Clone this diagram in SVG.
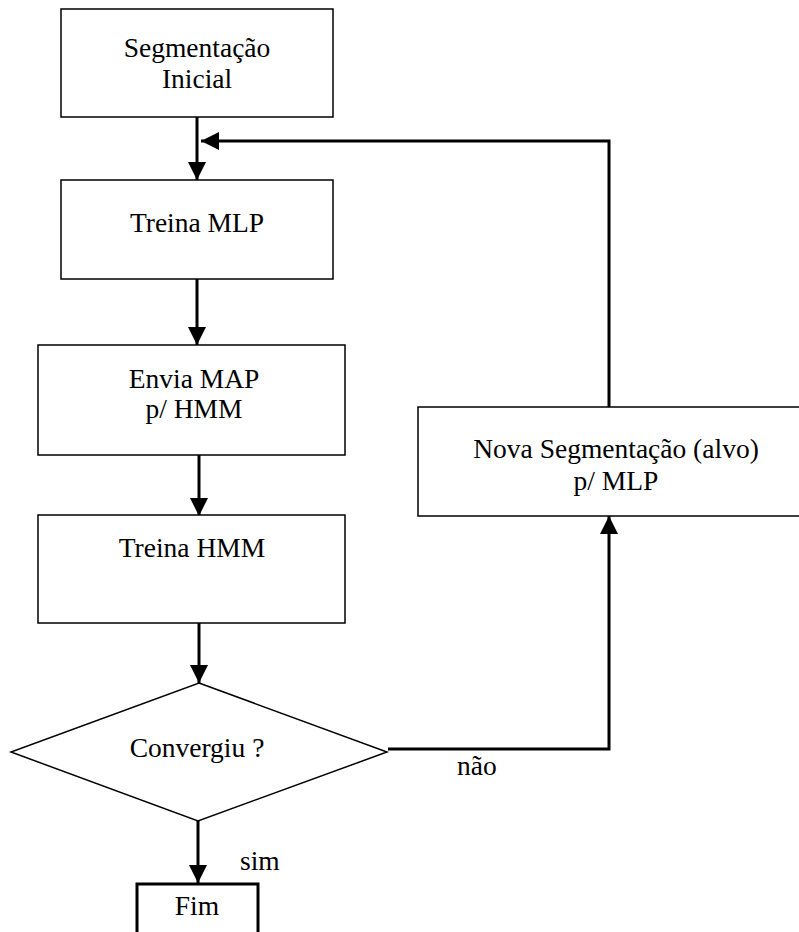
<svg xmlns="http://www.w3.org/2000/svg" width="799" height="932" viewBox="0 0 799 932">
  <style>
    .box { fill: #fff; stroke: #000; stroke-width: 1.5; }
    .bold { fill: #fff; stroke: #000; stroke-width: 3; }
    .lbl { font-family: "Liberation Serif", "Times New Roman", serif; font-size: 27.5px; fill: #000; text-anchor: middle; }
    .note { font-family: "Liberation Serif", "Times New Roman", serif; font-size: 27.5px; fill: #000; }
    .wire { fill: none; stroke: #000; stroke-width: 3; }
  </style>
  <defs>
    <marker id="arrow" viewBox="0 0 18 18" refX="18" refY="9" markerWidth="18" markerHeight="18" markerUnits="userSpaceOnUse" orient="auto">
      <path d="M0,0 L18,9 L0,18 Z" fill="#000"/>
    </marker>
  </defs>

  <g id="connectors">
    <line class="wire" x1="197" y1="117" x2="197" y2="180" marker-end="url(#arrow)"/>
    <polyline class="wire" points="609,407 609,141 201,141" marker-end="url(#arrow)"/>
    <line class="wire" x1="197" y1="279" x2="197" y2="345" marker-end="url(#arrow)"/>
    <line class="wire" x1="199" y1="455" x2="199" y2="516" marker-end="url(#arrow)"/>
    <line class="wire" x1="199" y1="623" x2="199" y2="683" marker-end="url(#arrow)"/>
    <line class="wire" x1="198" y1="821" x2="198" y2="883" marker-end="url(#arrow)"/>
    <polyline class="wire" points="388,749 609,749 609,516" marker-end="url(#arrow)"/>
    <text class="note" x="457" y="775">não</text>
    <text class="note" x="240" y="870">sim</text>
  </g>

  <g id="segmentacao-inicial">
    <rect class="box" x="61" y="9" width="272" height="108"/>
    <text class="lbl" x="197" y="57">Segmentação</text>
    <text class="lbl" x="197" y="88">Inicial</text>
  </g>

  <g id="treina-mlp">
    <rect class="box" x="61" y="180" width="272" height="99"/>
    <text class="lbl" x="197" y="232">Treina MLP</text>
  </g>

  <g id="envia-map">
    <rect class="box" x="38" y="345" width="307" height="110"/>
    <text class="lbl" x="194" y="388">Envia MAP</text>
    <text class="lbl" x="194" y="418">p/ HMM</text>
  </g>

  <g id="treina-hmm">
    <rect class="box" x="38" y="515" width="307" height="108"/>
    <text class="lbl" x="192" y="557">Treina HMM</text>
  </g>

  <g id="convergiu">
    <polygon class="box" points="199,683 387,752 198,821 11,752"/>
    <text class="lbl" x="197" y="757">Convergiu ?</text>
  </g>

  <g id="nova-segmentacao">
    <rect class="box" x="418" y="407" width="400" height="109"/>
    <text class="lbl" x="616" y="458">Nova Segmentação (alvo)</text>
    <text class="lbl" x="616" y="490">p/ MLP</text>
  </g>

  <g id="fim">
    <rect class="bold" x="137" y="884" width="121" height="60"/>
    <text class="lbl" x="197" y="915">Fim</text>
  </g>
</svg>
